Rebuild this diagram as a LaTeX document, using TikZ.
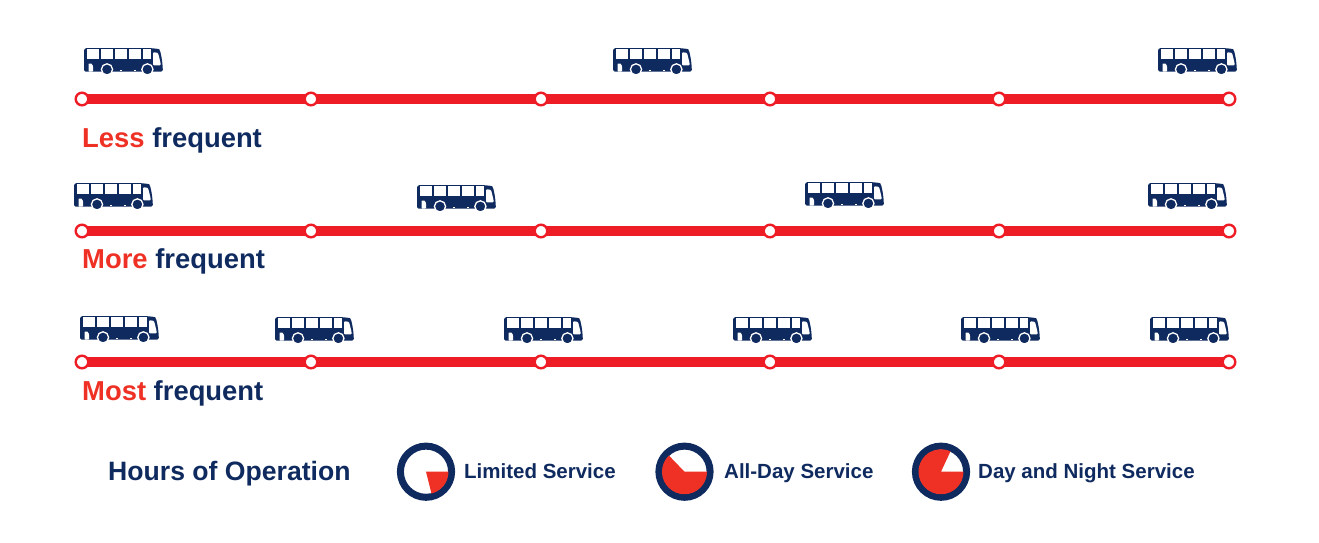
\documentclass[tikz,border=0pt]{standalone}
\usepackage{fontspec}
\setmainfont{Liberation Sans}
\definecolor{navy}{HTML}{0F2A5F}
\definecolor{linered}{HTML}{EE1C25}
\definecolor{wedgered}{HTML}{EE3124}
\tikzset{
  stn/.style={circle,draw=linered,fill=white,line width=2.4pt,minimum size=12.6pt,inner sep=0pt,outer sep=0pt},
  route/.style={draw=linered,line width=9.3pt},
  ringstyle/.style={draw=navy,line width=7pt,fill=white},
  head/.style={font=\bfseries\fontsize{27.4}{27}\selectfont,anchor=base west,inner sep=0pt,text=navy},
  legend/.style={font=\bfseries\fontsize{20.5}{20}\selectfont,anchor=base west,inner sep=0pt,text=navy},
  buspic/.pic={
    \fill[navy,rounded corners=1.5pt] (0,23.5) -- (0,6) .. controls (0,1) and (1,0) .. (4,0) -- (62,0) .. controls (70,0.2) and (75,1) .. (76,2.5) .. controls (78,10) and (78.8,18) .. (78.8,23.5) -- cycle;
    \foreach \a/\b in {2.7/15,17/29.3,31/43.3,45/57,59/67.2}
      \fill[white] (\a,1.4) rectangle (\b,10.5);
    \fill[white,rounded corners=1pt] (69,4.2) -- (74,4.8) -- (76.6,15) -- (76.6,17.4) -- (69,17.4) -- cycle;
    \fill[white,rounded corners=0.6pt] (4.5,15.5) -- (7.5,15.5) -- (9,18) -- (9,23.5) -- (4.5,23.5) -- cycle;
    \foreach \c in {23,63.4}{
      \fill[navy,draw=white,line width=1.3pt] (\c,21.4) circle (5.6);
    }
    \fill[white] (36,21.6) rectangle (38,22.9);
    \fill[white] (49.5,21.6) rectangle (51.5,22.9);
  }
}
\begin{document}
\begin{tikzpicture}[x=1pt,y=-1pt]
\useasboundingbox (0,0) rectangle (1319,542);
% rows of stations
\foreach \r/\y in {a/99,b/231,c/362}{
  \foreach \n/\x in {1/82,2/311,3/541,4/770,5/999,6/1229}
    \coordinate (\r\n) at (\x,\y);
  \draw[route] (\r1) -- (\r6);
  \foreach \n in {1,...,6}
    \node[stn] (s\r\n) at (\r\n) {};
}
% buses
\foreach \x/\y in {84/48,613/48,1158/48,
                   74/183,417/185,805/182,1148/183,
                   80/316,275/317,504/317,733/317,961/317,1150/317}
  \pic at (\x,\y) {buspic};
% headings
\node[head] (h1) at (82,147) {\textcolor{wedgered}{Less} frequent};
\node[head] (h2) at (82,268) {\textcolor{wedgered}{More} frequent};
\node[head] (h3) at (82,400) {\textcolor{wedgered}{Most} frequent};
% legend
\node[head,font=\bfseries\fontsize{26.6}{26}\selectfont] (hours) at (108,480.5) {Hours of Operation};
% clock 1
\draw[ringstyle] (426,471.7) circle (25.6);
\fill[wedgered] (426,471.7) -- (448.5,471.7) arc[start angle=0,end angle=76,radius=22.5] -- cycle;
\node[legend] (l1) at (464,478.5) {Limited Service};
% clock 2
\draw[ringstyle] (684.5,471.7) circle (25.6);
\fill[wedgered] (684.5,471.7) -- (707,471.7) arc[start angle=0,end angle=226,radius=22.5] -- cycle;
\node[legend] (l2) at (724,478.5) {All-Day Service};
% clock 3
\draw[ringstyle] (941,471.7) circle (25.6);
\fill[wedgered] (941,471.7) -- (963.5,471.7) arc[start angle=0,end angle=295,radius=22.5] -- cycle;
\node[legend] (l3) at (978,478.5) {Day and Night Service};
\end{tikzpicture}
\end{document}
